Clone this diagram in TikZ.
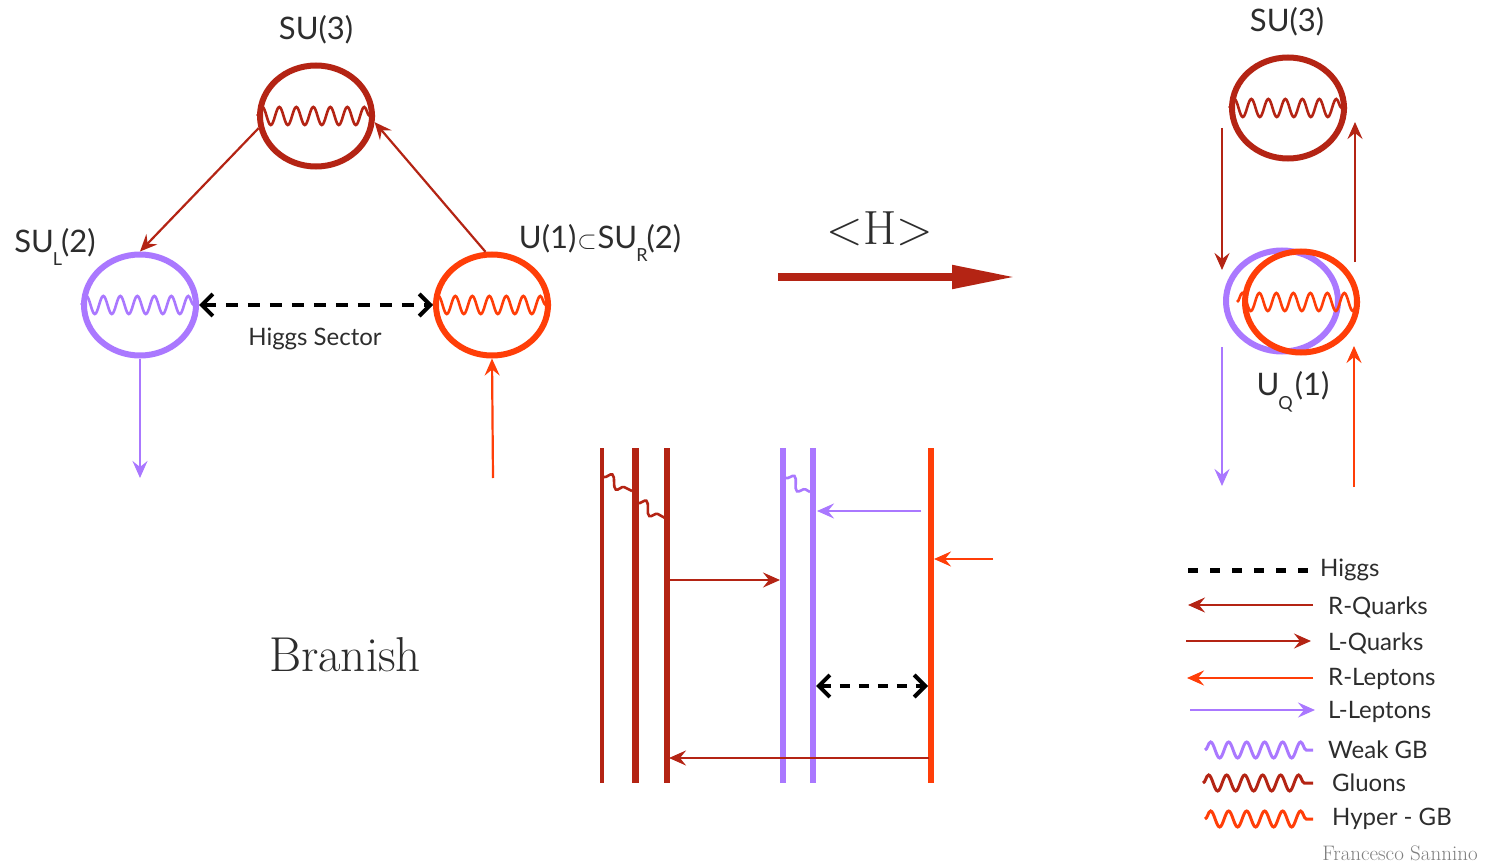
\documentclass[tikz,border=0pt]{standalone}
\usepackage{fontspec}
\setsansfont{Lato}
\usetikzlibrary{arrows.meta, decorations.pathmorphing, shapes.geometric}
\definecolor{qred}{RGB}{180,36,20}
\definecolor{lpurple}{RGB}{170,120,255}
\definecolor{horange}{RGB}{255,62,8}
\definecolor{tgray}{RGB}{45,45,45}
\begin{document}
\begin{tikzpicture}[x=1pt,y=-1pt,
  gauge/.style={draw, ellipse, line width=6pt, inner sep=0pt, minimum width=112pt, minimum height=101pt},
  gwave/.style={decorate, decoration={snake, segment length=17pt, amplitude=9pt}, line width=2.6pt},
  lwave/.style={decorate, decoration={snake, segment length=18pt, amplitude=8pt}, line width=3pt},
  bwave/.style={decorate, decoration={snake, segment length=20pt, amplitude=6pt}, line width=2.6pt},
  ferm/.style={line width=2.2pt, -{Stealth[length=17pt,width=15pt,inset=6pt]}},
  higgs/.style={line width=4pt, dash pattern=on 12pt off 10pt, black,
     {Straight Barb[length=11pt,width=22pt,line width=4pt]}-{Straight Barb[length=11pt,width=22pt,line width=4pt]}},
  lab/.style={font=\sffamily\fontsize{31}{33}\selectfont, text=tgray, inner sep=0pt},
  slab/.style={font=\sffamily\fontsize{24}{26}\selectfont, text=tgray, inner sep=0pt},
  brane/.style={line width=6pt},
]
\useasboundingbox (0,0) rectangle (1486,864);
\fill[white] (0,0) rectangle (1486,864);

% ---------- left triangle ----------
\node[gauge, qred] (su3) at (316,116) {};
\node[gauge, lpurple] (sul) at (140,305) {};
\node[gauge, horange] (u1) at (492,305) {};
\draw[gwave, qred] (su3.west) -- (su3.east);
\draw[gwave, lpurple] (sul.west) -- (sul.east);
\draw[gwave, horange] (u1.west) -- (u1.east);

\node[lab] (tsu3) at (316,30) {SU(3)};
\node[lab] (tsul) at (55,247) {SU\kern-1pt\raisebox{-0.45em}{\fontsize{18}{18}\selectfont L}\kern-1pt(2)};
\node[lab] (tu1) at (600,243) {U(1)\kern1pt$\subset$\kern1ptSU\kern-1pt\raisebox{-0.45em}{\fontsize{18}{18}\selectfont R}\kern-1pt(2)};

\draw[ferm, qred] (su3.192) -- (sul.north);
\draw[ferm, qred] (u1.97) -- (su3.-6);
\draw[higgs] (sul.east) -- (u1.west);
\node[slab] (hs) at (315,339) {Higgs Sector};

\coordinate (pl) at (140,478);
\coordinate (ol) at (493,478);
\draw[ferm, lpurple] (sul.south) -- (pl);
\draw[ferm, horange] (ol) -- (u1.south);

% ---------- <H> arrow ----------
\node[font=\fontsize{48}{50}\selectfont, text=tgray] (H) at (880,229) {<H>};
\coordinate (ha) at (778,277);
\coordinate (hb) at (1016,277);
\draw[line width=8pt, color=qred, -{Triangle[length=64pt,width=22pt]}] (ha) -- (hb);

% ---------- right side ----------
\node[lab] (tsu3r) at (1287,22) {SU(3)};
\node[gauge, qred] (su3r) at (1288,108) {};
\draw[gwave, qred] (su3r.west) -- (su3r.east);
\node[gauge, lpurple] (uqp) at (1282,301) {};
\node[gauge, horange] (uqo) at (1301,302) {};
\draw[gwave, horange] (1237,302) -- (uqo.east);
\node[lab] (tuq) at (1293,392) {U\kern-1pt\raisebox{-0.45em}{\fontsize{18}{18}\selectfont Q}\kern2pt(1)};

\coordinate (r1a) at (1222,128);
\coordinate (r1b) at (1222,270);
\coordinate (r2a) at (1355,262);
\coordinate (r2b) at (1355,122);
\coordinate (r3a) at (1222,347);
\coordinate (r3b) at (1222,486);
\coordinate (r4a) at (1354,487);
\coordinate (r4b) at (1354,346);
\draw[ferm, qred] (r1a) -- (r1b);
\draw[ferm, qred] (r2a) -- (r2b);
\draw[ferm, lpurple] (r3a) -- (r3b);
\draw[ferm, horange] (r4a) -- (r4b);

% ---------- Branish ----------
\node[font=\fontsize{49}{51}\selectfont, text=tgray] (br) at (345,655) {Branish};

\coordinate (b1t) at (602,448); \coordinate (b1b) at (602,783);
\coordinate (b2t) at (635,448); \coordinate (b2b) at (635,783);
\coordinate (b3t) at (667,448); \coordinate (b3b) at (667,783);
\coordinate (b4t) at (783,448); \coordinate (b4b) at (783,783);
\coordinate (b5t) at (813,448); \coordinate (b5b) at (813,783);
\coordinate (b6t) at (931,448); \coordinate (b6b) at (931,783);
\draw[brane, qred, line width=3.5pt] (b1t) -- (b1b);
\draw[brane, qred, line width=7pt] (b2t) -- (b2b);
\draw[brane, qred] (b3t) -- (b3b);
\draw[brane, lpurple] (b4t) -- (b4b);
\draw[brane, lpurple] (b5t) -- (b5b);
\draw[brane, horange] (b6t) -- (b6b);

\draw[bwave, qred] (604,477) -- (632,491);
\draw[bwave, qred] (638,503) -- (665,518);
\draw[bwave, lpurple] (786,478) -- (810,492);

\coordinate (pa) at (921,511); \coordinate (pb) at (817,511);
\coordinate (oa) at (993,559); \coordinate (ob) at (934,559);
\coordinate (qa) at (670,580); \coordinate (qb) at (780,580);
\coordinate (ha2) at (816,686); \coordinate (hb2) at (928,686);
\coordinate (la) at (929,758); \coordinate (lb) at (669,758);
\draw[ferm, lpurple] (pa) -- (pb);
\draw[ferm, horange] (oa) -- (ob);
\draw[ferm, qred] (qa) -- (qb);
\draw[higgs, dash pattern=on 10pt off 9pt] (ha2) -- (hb2);
\draw[ferm, qred] (la) -- (lb);

% ---------- legend ----------
\coordinate (l1a) at (1188,570); \coordinate (l1b) at (1312,570);
\draw[line width=5pt, dash pattern=on 10pt off 12pt, black] (l1a) -- (l1b);
\node[slab, anchor=west] (t1) at (1320,570) {Higgs};
\coordinate (l2a) at (1313,605); \coordinate (l2b) at (1188,605);
\draw[ferm, qred] (l2a) -- (l2b);
\node[slab, anchor=west] (t2) at (1328,607) {R-Quarks};
\coordinate (l3a) at (1186,641); \coordinate (l3b) at (1311,641);
\draw[ferm, qred] (l3a) -- (l3b);
\node[slab, anchor=west] (t3) at (1328,643) {L-Quarks};
\coordinate (l4a) at (1313,678); \coordinate (l4b) at (1187,678);
\draw[ferm, horange] (l4a) -- (l4b);
\node[slab, anchor=west] (t4) at (1328,679) {R-Leptons};
\coordinate (l5a) at (1190,710); \coordinate (l5b) at (1315,710);
\draw[ferm, lpurple] (l5a) -- (l5b);
\node[slab, anchor=west] (t5) at (1328,712) {L-Leptons};
\draw[lwave, lpurple] (1205,750) -- (1313,750);
\node[slab, anchor=west] (t6) at (1328,750) {Weak GB};
\draw[lwave, qred] (1203,783) -- (1313,783);
\node[slab, anchor=west] (t7) at (1332,783) {Gluons};
\draw[lwave, horange] (1205,819) -- (1313,819);
\node[slab, anchor=west] (t8) at (1332,819) {Hyper - GB};
\node[font=\fontsize{21}{22}\selectfont, text=gray, inner sep=0pt] (fs) at (1400,853) {Francesco Sannino};
\end{tikzpicture}
\end{document}
